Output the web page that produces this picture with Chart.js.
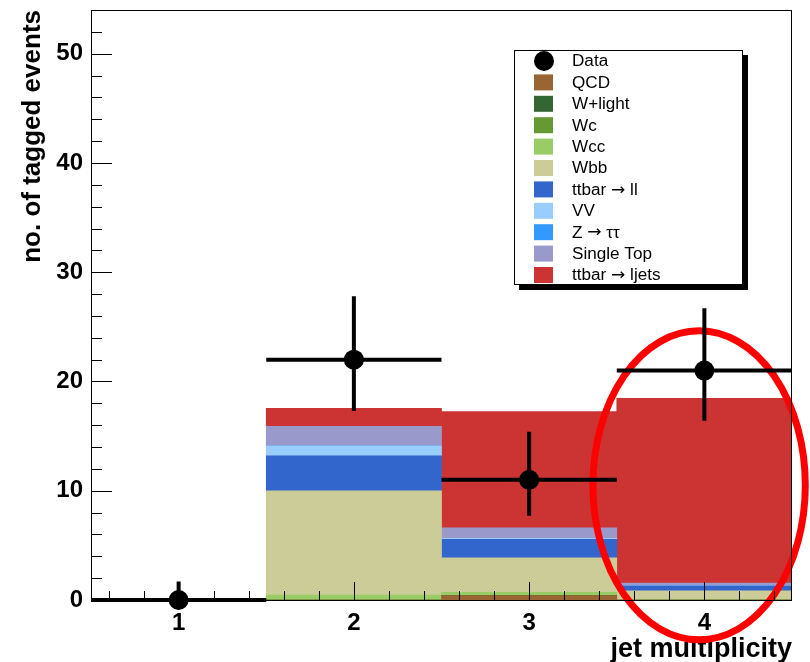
<!DOCTYPE html>
<html>
<head>
<meta charset="utf-8">
<script src="https://cdn.jsdelivr.net/npm/chart.js@4/dist/chart.umd.min.js"></script>
<style>
  html, body { margin: 0; padding: 0; background: #fff; }
  #wrap { width: 810px; height: 662px; }
</style>
</head>
<body>
<div id="wrap"><canvas id="chart" width="810" height="662"></canvas></div>
<script>
// jet multiplicity bins
const bins = [1, 2, 3, 4];

// stacked backgrounds, bottom to top
const qcd       = [0, 0,    0.4,  0];
const wlight    = [0, 0,    0,    0];
const wc        = [0, 0,    0,    0];
const wcc       = [0, 0.45, 0.3,  0];
const wbb       = [0, 9.55, 3.15, 0.85];
const ttbarLL   = [0, 3.2,  1.7,  0.45];
const vv        = [0, 0.9,  0.1,  0.05];
const ztautau   = [0, 0,    0,    0];
const singleTop = [0, 1.8,  0.95, 0.2];
const ttbarLJ   = [0, 1.65, 10.65, 16.9];

// data with asymmetric errors
const dataVals = [0, 22, 11, 21];
const errUp    = [1.7, 5.8, 4.4, 5.7];
const errDown  = [0, 4.7, 3.3, 4.6];

const yTicks = [0, 10, 20, 30, 40, 50];

const FONT = '"Liberation Sans", Arial, Helvetica, sans-serif';

const stackDefs = [
  ['QCD', qcd, '#996633'],
  ['W+light', wlight, '#336633'],
  ['Wc', wc, '#669933'],
  ['Wcc', wcc, '#99cc66'],
  ['Wbb', wbb, '#cccc99'],
  ['ttbar \u2192 ll', ttbarLL, '#3366cc'],
  ['VV', vv, '#99ccff'],
  ['Z \u2192 \u03c4\u03c4', ztautau, '#3399ff'],
  ['Single Top', singleTop, '#9999cc'],
  ['ttbar \u2192 ljets', ttbarLJ, '#cc3333']
];

const barSets = stackDefs.map(([label, vals, color]) => ({
  type: 'bar',
  label: label,
  data: vals,
  backgroundColor: color,
  borderWidth: 0,
  barPercentage: 1.0,
  categoryPercentage: 1.0,
  order: 2
}));

const dataSet = {
  type: 'line',
  label: 'Data',
  data: dataVals,
  showLine: false,
  pointRadius: 10,
  pointHoverRadius: 10,
  pointBackgroundColor: '#000',
  pointBorderColor: '#000',
  pointBorderWidth: 0,
  clip: false,
  order: 1
};

// legend text, with the arrow taken from DejaVu so it has the long ROOT look
function drawLabel(ctx, text, x, y) {
  const parts = text.split('\u2192');
  ctx.save();
  ctx.translate(x, y);
  ctx.scale(1.07, 1);
  let cx = 0;
  parts.forEach((p, i) => {
    ctx.font = '16px ' + FONT;
    ctx.fillText(p, cx, 0);
    cx += ctx.measureText(p).width;
    if (i < parts.length - 1) {
      ctx.font = '16px "DejaVu Sans"';
      ctx.fillText('\u2192', cx, 0);
      cx += ctx.measureText('\u2192').width;
    }
  });
  ctx.restore();
}

// frame, ticks, error bars, ellipse and legend in ROOT style
const rootStyle = {
  id: 'rootStyle',
  beforeDatasetDraw(chart, args) {
    if (args.meta.type !== 'line') return;
    const ctx = chart.ctx;
    const x = chart.scales.x, y = chart.scales.y;
    // red highlight ring round the 4-jet bin
    ctx.save();
    ctx.strokeStyle = '#ff0000';
    ctx.lineWidth = 7;
    const cx = x.getPixelForValue(3.97), cy = y.getPixelForValue(10.5);
    const rx = x.getPixelForValue(3.97 + 0.606) - cx;
    const ry = cy - y.getPixelForValue(10.5 + 14.14);
    ctx.beginPath();
    ctx.ellipse(cx, cy, rx, ry, 0, 0, Math.PI * 2);
    ctx.stroke();
    // error bars
    ctx.strokeStyle = '#000';
    ctx.lineWidth = 4;
    bins.forEach((b, i) => {
      const py = y.getPixelForValue(dataVals[i]);
      const px = x.getPixelForValue(b);
      ctx.beginPath();
      ctx.moveTo(x.getPixelForValue(b - 0.5), py);
      ctx.lineTo(x.getPixelForValue(b + 0.5), py);
      ctx.moveTo(px, y.getPixelForValue(dataVals[i] + errUp[i]));
      ctx.lineTo(px, y.getPixelForValue(dataVals[i] - errDown[i]));
      ctx.stroke();
    });
    ctx.restore();
  },
  afterDatasetsDraw(chart) {
    const ctx = chart.ctx;
    const a = chart.chartArea;
    const x = chart.scales.x, y = chart.scales.y;
    ctx.save();
    ctx.strokeStyle = '#000';
    ctx.lineWidth = 1;
    ctx.strokeRect(a.left + 0.5, a.top + 0.5, a.right - a.left - 1, a.bottom - a.top);
    ctx.beginPath();
    for (let v = 0; v <= 52; v += 2) {
      const py = Math.round(y.getPixelForValue(v)) + 0.5;
      const len = v % 10 === 0 ? 21 : 11;
      ctx.moveTo(a.left, py);
      ctx.lineTo(a.left + len, py);
    }
    for (let k = 3; k <= 22; k++) {
      const v = k * 0.2;
      const px = Math.round(x.getPixelForValue(v)) + 0.5;
      const len = k % 5 === 0 ? 18 : 9;
      ctx.moveTo(px, a.bottom);
      ctx.lineTo(px, a.bottom - len);
    }
    ctx.stroke();
    ctx.restore();
  },
  afterDraw(chart) {
    const ctx = chart.ctx;
    const L = 514, T = 50, W = 229, H = 235;
    ctx.save();
    ctx.fillStyle = '#000';
    ctx.fillRect(L + 5, T + 5, W, H);
    ctx.fillStyle = '#fff';
    ctx.fillRect(L, T, W, H);
    ctx.strokeStyle = '#000';
    ctx.lineWidth = 1;
    ctx.strokeRect(L + 0.5, T + 0.5, W - 1, H - 1);
    const items = [dataSet].concat(barSets);
    ctx.textBaseline = 'middle';
    items.forEach((ds, i) => {
      const cy = 61 + i * 21.4;
      if (ds.type === 'line') {
        ctx.fillStyle = '#000';
        ctx.beginPath();
        ctx.arc(544, cy, 10, 0, Math.PI * 2);
        ctx.fill();
      } else {
        ctx.fillStyle = ds.backgroundColor;
        ctx.fillRect(534, cy - 8, 19, 16);
      }
      ctx.fillStyle = '#000';
      drawLabel(ctx, ds.label, 572, cy + 1);
    });
    ctx.restore();
  }
};

new Chart(document.getElementById('chart'), {
  data: {
    labels: bins,
    datasets: [dataSet].concat(barSets)
  },
  options: {
    responsive: false,
    animation: false,
    events: [],
    layout: { padding: { top: 8, right: 18, left: 0, bottom: 0 } },
    plugins: {
      legend: { display: false },
      tooltip: { enabled: false }
    },
    scales: {
      x: {
        type: 'linear',
        stacked: true,
        offset: false,
        min: 0.5,
        max: 4.5,
        afterBuildTicks: s => { s.ticks = bins.map(v => ({ value: v })); },
        afterFit: s => { s.height = 62; s.paddingLeft = 0; s.paddingRight = 0; },
        grid: { display: false, drawTicks: false, tickLength: 0, offset: false },
        border: { display: false },
        ticks: {
          color: '#000',
          padding: 9,
          maxRotation: 0,
          font: { family: FONT, size: 24, weight: 'bold' },
          callback: v => String(v)
        },
        title: {
          display: true,
          text: 'jet multiplicity',
          align: 'end',
          color: '#000',
          padding: { top: 0, bottom: -1 },
          font: { family: FONT, size: 27, weight: 'bold', lineHeight: 1 }
        }
      },
      y: {
        stacked: true,
        min: 0,
        max: 54,
        afterBuildTicks: s => { s.ticks = yTicks.map(v => ({ value: v })); },
        afterFit: s => { s.width = 91; s.paddingTop = 0; s.paddingBottom = 0; },
        grid: { display: false, drawTicks: false, tickLength: 0 },
        border: { display: false },
        ticks: {
          color: '#000',
          padding: 8,
          font: { family: FONT, size: 24, weight: 'bold' }
        },
        title: {
          display: true,
          text: 'no. of tagged events',
          align: 'end',
          color: '#000',
          padding: { top: 20, bottom: 0 },
          font: { family: FONT, size: 26, weight: 'bold', lineHeight: 1 }
        }
      }
    }
  },
  plugins: [rootStyle]
});
</script>
</body>
</html>
